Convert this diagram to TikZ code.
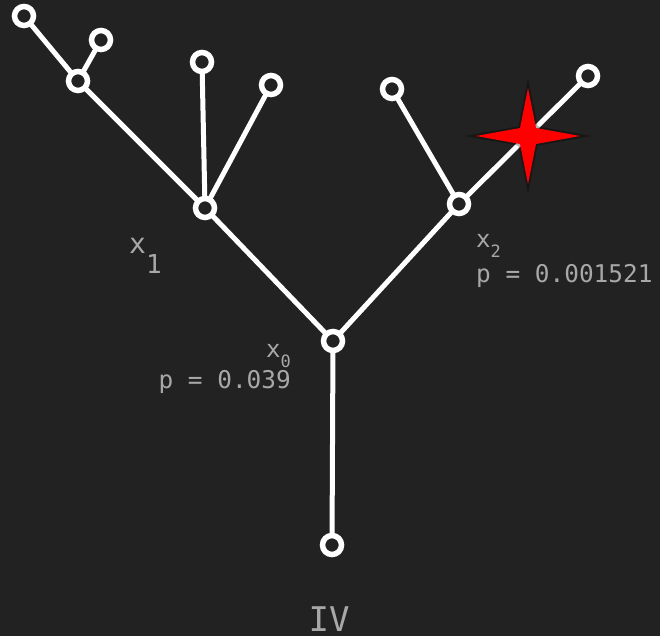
\documentclass[tikz,border=0pt]{standalone}
\usepackage{fontspec}
\setmainfont{DejaVu Sans Mono}
\definecolor{bg}{HTML}{222222}
\definecolor{lbl}{HTML}{A8A8A8}
\definecolor{starred}{HTML}{FF0000}
\begin{document}
\begin{tikzpicture}[x=1pt,y=-1pt,
  edge/.style={draw=white,line width=5pt},
  vtx/.style={circle,draw=white,fill=bg,line width=5.5pt,minimum size=19pt,inner sep=0pt},
  lab/.style={text=lbl,inner sep=0pt}]
\fill[bg] (0,0) rectangle (660,636);
\useasboundingbox (0,0) rectangle (660,636);
% vertex positions
\coordinate (cr) at (332,545);
\coordinate (c0) at (333,341);
\coordinate (c1) at (205,208);
\coordinate (c2) at (459,204);
\coordinate (ca) at (78,81);
\coordinate (cb) at (24,16);
\coordinate (cc) at (101,40);
\coordinate (cd) at (202,62);
\coordinate (ce) at (271,85);
\coordinate (cf) at (392,89);
\coordinate (cg) at (588,76);
% edges (under vertices)
\draw[edge] (cr) -- (c0);
\draw[edge] (c0) -- (c1);
\draw[edge] (c0) -- (c2);
\draw[edge] (c1) -- (ca);
\draw[edge] (c1) -- (cd);
\draw[edge] (c1) -- (ce);
\draw[edge] (ca) -- (cb);
\draw[edge] (ca) -- (cc);
\draw[edge] (c2) -- (cf);
\draw[edge] (c2) -- (cg);
% vertices
\node[vtx] (r) at (cr) {};
\node[vtx] (x0) at (c0) {};
\node[vtx] (x1) at (c1) {};
\node[vtx] (x2) at (c2) {};
\node[vtx] (a) at (ca) {};
\node[vtx] (b) at (cb) {};
\node[vtx] (c) at (cc) {};
\node[vtx] (d) at (cd) {};
\node[vtx] (e) at (ce) {};
\node[vtx] (f) at (cf) {};
\node[vtx] (g) at (cg) {};
% star with soft dark outline
\path[draw=black,draw opacity=0.3,line width=4pt,line join=miter]
  (528,88) -- (536,128) -- (580,136) -- (536,144) -- (528,184) -- (520,144) -- (476,136) -- (520,128) -- cycle;
\path[fill=starred]
  (528,88) -- (536,128) -- (580,136) -- (536,144) -- (528,184) -- (520,144) -- (476,136) -- (520,128) -- cycle;
% labels
\node[lab,anchor=base west,font=\fontsize{28}{28}\selectfont] (l1) at (129,253)
  {x\raisebox{-20pt}{\fontsize{26}{26}\selectfont 1}};
\node[lab,anchor=base west,font=\fontsize{24}{24}\selectfont] (l2) at (476,247)
  {x\raisebox{-10pt}{\fontsize{17}{17}\selectfont 2}};
\node[lab,anchor=base west,font=\fontsize{24.4}{24.4}\selectfont] (p2) at (476,282)
  {p = 0.001521};
\node[lab,anchor=base east,font=\fontsize{24}{24}\selectfont] (l0) at (291,357)
  {x\raisebox{-10pt}{\fontsize{17}{17}\selectfont 0}};
\node[lab,anchor=base east,font=\fontsize{24.4}{24.4}\selectfont] (p0) at (291,388)
  {p = 0.039};
\node[lab,anchor=base,font=\fontsize{34}{34}\selectfont] (iv) at (329,631) {IV};
\end{tikzpicture}
\end{document}
